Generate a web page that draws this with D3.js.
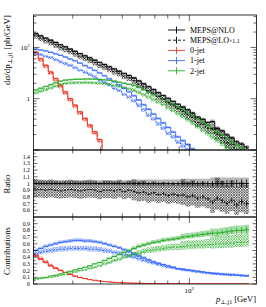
<!DOCTYPE html>
<html><head><meta charset="utf-8">
<script src="https://cdn.jsdelivr.net/npm/d3@7/dist/d3.min.js"></script>
<style>body{margin:0;background:#fff}svg{display:block}text{font-family:"Liberation Serif","DejaVu Serif",serif;fill:#000}</style>
</head><body><svg id="c" width="266" height="307"></svg>
<script>
// ---------- data ----------
const xEdges=[20,21.0,22.1,23.3,24.5,25.8,27.1,28.5,30.0,31.5,33.2,34.9,36.7,38.6,40.6,42.7,44.9,47.3,49.7,52.3,55.0,57.9,60.9,64.0,67.4,70.9,74.5,78.4,82.5,86.8,91.3,96.0,101,106,112,118,124,130,137,144,151,159,167,176,185];
// main panel: differential cross sections [pb/GeV]
const nloTotal=[18.5,16.8,15.2,13.8,12.5,11.3,10.3,9.27,8.41,7.60,6.89,6.25,5.65,5.13,4.65,4.20,3.81,3.44,3.13,2.83,2.54,2.23,1.95,1.72,1.51,1.32,1.16,1.02,0.891,0.783,0.686,0.61,0.525,0.44,0.397,0.345,0.36,0.262,0.235,0.198,0.172,0.145,0.131,0.114];
const loTotal=[17.0,15.3,13.7,12.6,11.25,10.06,9.27,8.44,7.57,6.76,6.20,5.69,5.09,4.51,4.19,3.78,3.39,3.13,2.75,2.55,2.24,1.92,1.70,1.44,1.30,1.10,0.986,0.836,0.748,0.642,0.569,0.488,0.431,0.343,0.318,0.266,0.259,0.204,0.174,0.139,0.129,0.0986,0.0956,0.0798];
const red0NLO=[8.1,6.05,4.5,3.33,2.48,1.83,1.36,1.0,0.75,0.555,0.413,0.307,0.227,0.16,0.095,0.07,0.052,0.04,0.03,0.022,0.017,0.013,0.01,0.008,0.007,0.006,0.005,0.004,0.004,0.003,0.003,0.003,0.002,0.002,0.002,0.002,0.002,0.002,0.002,0.002,0.002,0.002,0.002,0.002];
const red0LO=[7.55,5.6,4.2,3.1,2.3,1.7,1.27,0.93,0.7,0.515,0.385,0.285,0.21,0.148,0.088,0.065,0.048,0.037,0.028,0.02,0.016,0.012,0.009,0.007,0.006,0.005,0.004,0.004,0.003,0.003,0.003,0.002,0.002,0.002,0.002,0.002,0.002,0.002,0.002,0.002,0.002,0.002,0.002,0.002];
const blue1NLO=[9.25,8.9,8.51,8.0,7.5,7.0,6.49,5.93,5.47,4.94,4.41,4.0,3.56,3.18,2.79,2.44,2.13,1.86,1.6,1.36,1.14,0.94,0.76,0.62,0.5,0.41,0.336,0.275,0.223,0.18,0.151,0.128,0.105,0.084,0.071,0.059,0.058,0.039,0.035,0.028,0.024,0.019,0.017,0.014];
const blue1LO=[7.65,7.19,6.71,6.3,5.74,5.23,4.82,4.47,4.01,3.58,3.29,2.96,2.65,2.3,2.1,1.85,1.59,1.44,1.21,1.07,0.9,0.73,0.6,0.475,0.4,0.32,0.266,0.209,0.18,0.141,0.119,0.098,0.082,0.062,0.054,0.043,0.039,0.031,0.024,0.019,0.017,0.013,0.011,0.01];
const green2NLO=[1.48,1.6,1.73,1.87,2.04,2.2,2.3,2.35,2.38,2.4,2.42,2.42,2.4,2.37,2.33,2.28,2.2,2.1,2.0,1.9,1.8,1.65,1.5,1.36,1.23,1.11,1.0,0.88,0.776,0.685,0.604,0.533,0.462,0.40,0.347,0.299,0.259,0.224,0.194,0.168,0.145,0.126,0.109,0.094];
const green2LO=[1.3,1.4,1.5,1.62,1.75,1.88,1.98,2.02,2.05,2.06,2.07,2.06,2.03,2.0,1.96,1.9,1.82,1.73,1.64,1.55,1.45,1.32,1.19,1.07,0.96,0.86,0.77,0.67,0.59,0.51,0.45,0.39,0.335,0.285,0.245,0.21,0.18,0.155,0.133,0.114,0.098,0.084,0.072,0.062];
// relative uncertainties
const nloUp=[0.05,0.05,0.05,0.05,0.05,0.05,0.05,0.05,0.05,0.05,0.05,0.05,0.05,0.05,0.05,0.05,0.05,0.05,0.05,0.05,0.06,0.06,0.06,0.06,0.06,0.06,0.06,0.06,0.06,0.06,0.07,0.07,0.07,0.07,0.07,0.07,0.09,0.09,0.09,0.09,0.09,0.09,0.09,0.09];
const nloDn=[0.03,0.03,0.03,0.03,0.03,0.03,0.03,0.03,0.03,0.03,0.03,0.03,0.03,0.03,0.03,0.03,0.03,0.03,0.03,0.03,0.04,0.04,0.04,0.04,0.04,0.04,0.04,0.04,0.04,0.04,0.05,0.05,0.05,0.05,0.05,0.05,0.06,0.06,0.06,0.06,0.06,0.06,0.06,0.06];
const loUp=[0.16,0.16,0.16,0.16,0.16,0.16,0.16,0.16,0.16,0.16,0.16,0.16,0.16,0.16,0.16,0.16,0.16,0.16,0.16,0.16,0.2,0.2,0.2,0.2,0.2,0.2,0.2,0.2,0.2,0.2,0.28,0.28,0.28,0.28,0.28,0.28,0.4,0.4,0.4,0.4,0.4,0.4,0.4,0.4];
const loDn=[0.13,0.13,0.13,0.13,0.13,0.13,0.13,0.13,0.13,0.13,0.13,0.13,0.13,0.13,0.13,0.13,0.13,0.13,0.13,0.13,0.15,0.15,0.15,0.15,0.15,0.15,0.15,0.15,0.15,0.15,0.18,0.18,0.18,0.18,0.18,0.18,0.22,0.22,0.22,0.22,0.22,0.22,0.22,0.22];
const statRel=[0.01,0.01,0.01,0.01,0.01,0.01,0.01,0.01,0.01,0.01,0.01,0.01,0.01,0.01,0.01,0.01,0.015,0.015,0.015,0.015,0.02,0.02,0.02,0.02,0.02,0.02,0.025,0.025,0.025,0.03,0.03,0.03,0.035,0.035,0.035,0.035,0.04,0.045,0.045,0.05,0.05,0.055,0.06,0.06];
// contributions panel: jet-multiplicity fractions
const fracRedNLO=[0.42,0.37,0.32,0.27,0.23,0.2,0.17,0.14,0.115,0.095,0.08,0.065,0.055,0.045,0.037,0.03,0.025,0.021,0.018,0.015,0.013,0.011,0.009,0.008,0.007,0.006,0.005,0.005,0.004,0.004,0.003,0.003,0.003,0.003,0.002,0.002,0.002,0.002,0.002,0.002,0.002,0.002,0.002,0.002];
const fracRedLO=[0.43,0.38,0.33,0.28,0.24,0.205,0.175,0.145,0.12,0.1,0.082,0.067,0.056,0.046,0.038,0.031,0.026,0.022,0.018,0.015,0.013,0.011,0.009,0.008,0.007,0.006,0.005,0.005,0.004,0.004,0.003,0.003,0.003,0.003,0.002,0.002,0.002,0.002,0.002,0.002,0.002,0.002,0.002,0.002];
const fracBlueNLO=[0.50,0.53,0.56,0.58,0.60,0.62,0.63,0.64,0.65,0.65,0.64,0.64,0.63,0.62,0.60,0.58,0.56,0.54,0.51,0.48,0.45,0.42,0.39,0.36,0.33,0.31,0.29,0.27,0.25,0.23,0.22,0.21,0.2,0.19,0.18,0.17,0.16,0.15,0.15,0.14,0.14,0.13,0.13,0.12];
const fracBlueLO=[0.45,0.47,0.49,0.5,0.51,0.52,0.52,0.53,0.53,0.53,0.53,0.52,0.52,0.51,0.5,0.49,0.47,0.46,0.44,0.42,0.4,0.38,0.35,0.33,0.31,0.29,0.27,0.25,0.24,0.22,0.21,0.2,0.19,0.18,0.17,0.16,0.15,0.15,0.14,0.14,0.13,0.13,0.12,0.12];
const fracGreenNLO=[0.08,0.09,0.1,0.12,0.13,0.15,0.17,0.19,0.21,0.23,0.25,0.27,0.3,0.32,0.35,0.38,0.41,0.44,0.47,0.5,0.53,0.56,0.58,0.6,0.62,0.63,0.65,0.66,0.67,0.68,0.7,0.71,0.72,0.73,0.74,0.75,0.76,0.76,0.77,0.78,0.79,0.8,0.8,0.81];
const fracGreenLO=[0.07,0.08,0.09,0.1,0.11,0.13,0.14,0.16,0.18,0.2,0.21,0.23,0.25,0.27,0.3,0.32,0.35,0.37,0.4,0.42,0.44,0.46,0.48,0.5,0.51,0.52,0.53,0.54,0.55,0.55,0.56,0.57,0.57,0.58,0.58,0.59,0.59,0.6,0.6,0.61,0.61,0.62,0.62,0.63];
const legendLabels=["MEPS@NLO","MEPS@LO","0-jet","1-jet","2-jet"];
const ratioTicks=[0.6,0.7,0.8,0.9,1,1.1,1.2,1.3,1.4];
const contribTicks=[0,0.1,0.2,0.3,0.4,0.5,0.6,0.7,0.8,0.9];

// ---------- layout ----------
const L=33.5,R=256.5;
const svg=d3.select("#c");
const x=d3.scaleLog().domain([20,200]).range([L,R]);
const yM=d3.scaleLog().domain([0.1,43]).range([150,15]);
const yR=d3.scaleLinear().domain([0.5,1.5]).range([217,150]);
const yC=d3.scaleLinear().domain([0,1]).range([284,217]);
const COL={black:"#000",red:"#ee3322",blue:"#3366ff",green:"#22aa22"};
const LIGHT={black:"#b8b8b8",red:"#f7a59c",blue:"#a9c0fb",green:"#a6dca6"};

const defs=svg.append("defs");
Object.entries(COL).forEach(([k,c])=>{
  const p=defs.append("pattern").attr("id","h-"+k).attr("patternUnits","userSpaceOnUse").attr("width",2.6).attr("height",2.6);
  p.append("path").attr("d","M0,0L2.6,2.6M2.6,0L0,2.6").attr("stroke",c).attr("stroke-width",0.55).attr("fill","none");
});
[["main",15,150],["ratio",150,217],["contrib",217,284]].forEach(([n,t,b])=>{
  defs.append("clipPath").attr("id","cl-"+n).append("rect").attr("x",L).attr("y",t).attr("width",R-L).attr("height",b-t);
});

const div=(a,b)=>a.map((v,i)=>v/b[i]);
const scl=(a,r,s)=>a.map((v,i)=>v*(1+s*r[i]));
const ctr=i=>Math.sqrt(xEdges[i]*xEdges[i+1]);

function stepPts(lo,hi){const p=lo.map((v,i)=>({x:xEdges[i],lo:v,hi:hi?hi[i]:v}));p.push({x:xEdges[lo.length],lo:lo[lo.length-1],hi:hi?hi[hi.length-1]:lo[lo.length-1]});return p;}
function cy(y,v){const r=y(v);return isFinite(r)?Math.max(-50,Math.min(400,r)):400;}
function band(g,y,lo,hi,fill){
  g.append("path").attr("d",d3.area().x(d=>x(d.x)).y0(d=>cy(y,d.lo)).y1(d=>cy(y,d.hi)).curve(d3.curveStepAfter)(stepPts(lo,hi))).attr("fill",fill).attr("stroke","none");
}
function line(g,y,vals,color,dash){
  g.append("path").attr("d",d3.line().x(d=>x(d.x)).y(d=>cy(y,d.lo)).curve(d3.curveStepAfter)(stepPts(vals))).attr("fill","none").attr("stroke",color).attr("stroke-width",0.9).attr("stroke-dasharray",dash?"2.2,1.6":null);
}
function errs(g,y,vals,rel,color){
  g.selectAll(null).data(vals).enter().append("line")
    .attr("x1",(d,i)=>x(ctr(i))).attr("x2",(d,i)=>x(ctr(i)))
    .attr("y1",(d,i)=>cy(y,d*(1-rel[i]))).attr("y2",(d,i)=>cy(y,d*(1+rel[i])))
    .attr("stroke",color).attr("stroke-width",0.8);
}

const comps=[
  {k:"red",nlo:red0NLO,lo:red0LO,fn:fracRedNLO,fl:fracRedLO},
  {k:"blue",nlo:blue1NLO,lo:blue1LO,fn:fracBlueNLO,fl:fracBlueLO},
  {k:"green",nlo:green2NLO,lo:green2LO,fn:fracGreenNLO,fl:fracGreenLO}
];

// ---------- main panel ----------
const gM=svg.append("g").attr("clip-path","url(#cl-main)");
comps.forEach(c=>{
  band(gM,yM,scl(c.nlo,nloDn,-1),scl(c.nlo,nloUp,1),LIGHT[c.k]);
  band(gM,yM,scl(c.lo,loDn,-0.5),scl(c.lo,loUp,0.5),"url(#h-"+c.k+")");
});
band(gM,yM,scl(nloTotal,nloDn,-1),scl(nloTotal,nloUp,1),LIGHT.black);
band(gM,yM,scl(loTotal,loDn,-1),scl(loTotal,loUp,1),"url(#h-black)");
comps.forEach(c=>{
  line(gM,yM,c.lo,COL[c.k],true);
  line(gM,yM,c.nlo,COL[c.k],false);
  errs(gM,yM,c.nlo,statRel,COL[c.k]);
});
line(gM,yM,loTotal,"#000",true);
line(gM,yM,nloTotal,"#000",false);
errs(gM,yM,nloTotal,statRel,"#000");
errs(gM,yM,loTotal,statRel,"#000");

// ---------- ratio panel ----------
const gR=svg.append("g").attr("clip-path","url(#cl-ratio)");
const ones=nloTotal.map(()=>1);
const rLO=div(loTotal,nloTotal);
band(gR,yR,scl(ones,nloDn,-1),scl(ones,nloUp,1),LIGHT.black);
band(gR,yR,scl(rLO,loDn,-1),scl(rLO,loUp,1),"url(#h-black)");
line(gR,yR,rLO,"#000",true);
line(gR,yR,ones,"#000",false);
errs(gR,yR,ones,statRel,"#000");
errs(gR,yR,rLO,statRel,"#000");

// ---------- contributions panel ----------
const gC=svg.append("g").attr("clip-path","url(#cl-contrib)");
comps.forEach(c=>{
  band(gC,yC,scl(c.fn,nloDn,-1),scl(c.fn,nloUp,1),LIGHT[c.k]);
  band(gC,yC,scl(c.fl,loDn,-0.5),scl(c.fl,loUp,0.5),"url(#h-"+c.k+")");
});
comps.forEach(c=>{
  line(gC,yC,c.fl,COL[c.k],true);
  line(gC,yC,c.fn,COL[c.k],false);
  errs(gC,yC,c.fn,statRel,COL[c.k]);
});

// ---------- axes / ticks ----------
const ax=svg.append("g").attr("stroke","#000").attr("stroke-width",0.6);
const xMinor=[30,40,50,60,70,80,90],xMajor=[100];
[[15,150],[150,217],[217,284]].forEach(([t,b])=>{
  xMinor.forEach(v=>{ax.append("line").attr("x1",x(v)).attr("x2",x(v)).attr("y1",t).attr("y2",t+3.5);ax.append("line").attr("x1",x(v)).attr("x2",x(v)).attr("y1",b).attr("y2",b-3.5);});
  xMajor.forEach(v=>{ax.append("line").attr("x1",x(v)).attr("x2",x(v)).attr("y1",t).attr("y2",t+6);ax.append("line").attr("x1",x(v)).attr("x2",x(v)).attr("y1",b).attr("y2",b-6);});
});
function yt(y,v,len){[[L,L+len],[R,R-len]].forEach(([a,b])=>ax.append("line").attr("x1",a).attr("x2",b).attr("y1",y(v)).attr("y2",y(v)));}
[0.1,1,10].forEach(v=>yt(yM,v,6));
[0.2,0.3,0.4,0.5,0.6,0.7,0.8,0.9,2,3,4,5,6,7,8,9,20,30,40].forEach(v=>yt(yM,v,3));
d3.range(0.55,1.5,0.1).forEach(v=>yt(yR,v,2));
ratioTicks.forEach(v=>yt(yR,v,4));
d3.range(0.05,1,0.1).forEach(v=>yt(yC,v,2));
contribTicks.forEach(v=>yt(yC,v,4));

[[15,150],[150,217],[217,284]].forEach(([t,b])=>svg.append("rect").attr("x",L).attr("y",t).attr("width",R-L).attr("height",b-t).attr("fill","none").attr("stroke","#000").attr("stroke-width",0.8));

// tick labels
const fs=5.8;
function lab(xx,yy,txt,anchor,size){return svg.append("text").attr("x",xx).attr("y",yy).attr("font-size",size||fs).attr("text-anchor",anchor||"end").text(txt);}
const t10=lab(30,yM(10)+2.5,"10","end",7);t10.append("tspan").attr("dy",-3).attr("font-size",5).text("1");
lab(30,yM(1)+2.5,"1","end",7);
ratioTicks.forEach(v=>lab(30,yR(v)+2,String(v)));
contribTicks.forEach(v=>lab(30,yC(v)+2,String(v)));
const t100=svg.append("text").attr("x",x(100)).attr("y",293).attr("font-size",7).attr("text-anchor","middle").text("10");
t100.append("tspan").attr("dy",-3).attr("font-size",5).text("2");

// axis titles
const xl=svg.append("text").attr("x",256).attr("y",302).attr("font-size",8.5).attr("text-anchor","end");
xl.append("tspan").attr("font-style","italic").text("p");
xl.append("tspan").attr("font-size",6).attr("dy",1.8).text("⊥,j1");
xl.append("tspan").attr("dy",-1.8).text(" [GeV]");
const yl=svg.append("text").attr("transform","translate(10,15) rotate(-90)").attr("font-size",9).attr("text-anchor","end");
yl.append("tspan").text("dσ/dp");
yl.append("tspan").attr("font-size",6.3).attr("dy",1.8).text("⊥,j1");
yl.append("tspan").attr("dy",-1.8).text(" [pb/GeV]");
svg.append("text").attr("transform","translate(10,184) rotate(-90)").attr("font-size",8.7).attr("text-anchor","middle").text("Ratio");
svg.append("text").attr("transform","translate(10,251) rotate(-90)").attr("font-size",8.7).attr("text-anchor","middle").text("Contributions");

// legend
const lg=svg.append("g");
const legCols=["black","black","red","blue","green"];
legendLabels.forEach((t,i)=>{
  const yy=30+i*10.2;
  const c=COL[legCols[i]];
  lg.append("line").attr("x1",168).attr("x2",185).attr("y1",yy).attr("y2",yy).attr("stroke",c).attr("stroke-width",0.9).attr("stroke-dasharray",i===1?"3,2":null);
  lg.append("line").attr("x1",176.5).attr("x2",176.5).attr("y1",yy-3.5).attr("y2",yy+3.5).attr("stroke",c).attr("stroke-width",0.9);
  const tx=lg.append("text").attr("x",190).attr("y",yy+2.8).attr("font-size",8).text(t);
  if(i===1) tx.append("tspan").attr("font-size",6).text("×1.1");
});
</script></body></html>
